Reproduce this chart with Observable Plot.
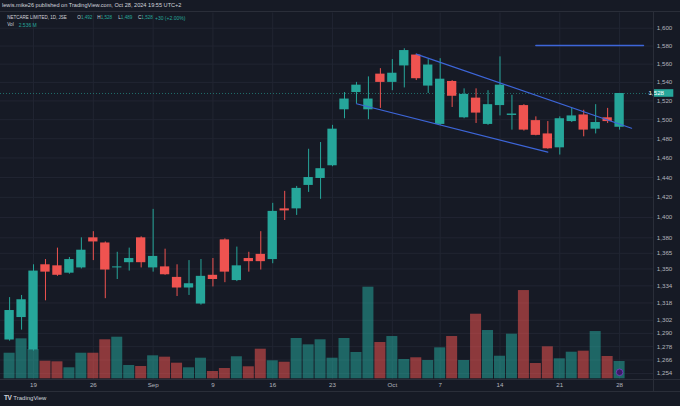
<!DOCTYPE html>
<html>
<head>
<meta charset="utf-8">
<script src="https://cdn.jsdelivr.net/npm/d3@7"></script>
<script src="https://cdn.jsdelivr.net/npm/@observablehq/plot@0.6"></script>
<style>
html,body{margin:0;padding:0;background:#161a25;}
#wrap{position:relative;width:680px;height:406px;overflow:hidden;background:#161a25;font-family:"Liberation Sans",Arial,sans-serif;}
#wrap svg{position:absolute;left:0;top:0;}
.hdr{position:absolute;left:0;top:0;width:680px;height:12px;border-bottom:1px solid #2a2e39;box-sizing:border-box;color:#d1d4dc;font-size:5.6px;line-height:11px;padding-left:2px;background:#161a25;z-index:5;white-space:nowrap;}
.lg{position:absolute;color:#d1d4dc;font-size:4.6px;white-space:nowrap;z-index:5;line-height:6px;}
.lg .v{color:#26a69a;}
.sepH{position:absolute;left:0;width:680px;height:1px;background:#2a2e39;z-index:4;}
.sepV{position:absolute;left:653px;width:1px;top:12px;height:379px;background:#2a2e39;z-index:4;}
.logo{position:absolute;left:4px;top:394px;color:#d1d4dc;font-size:6px;white-space:nowrap;z-index:5;}
.logo b{font-size:6.5px;margin-right:2px;letter-spacing:-0.5px;}
</style>
</head>
<body>
<div id="wrap">
  <div class="hdr">lewis.mike26 published on TradingView.com, Oct 28, 2024 19:55 UTC+2</div>
  <div class="sepH" style="top:379px"></div>
  <div class="sepH" style="top:391px"></div>
  <div class="sepV"></div>
  <div class="logo"><b>TV</b>TradingView</div>
</div>
<script>
// ---- data ----
const dates = ["2024-08-15","2024-08-16","2024-08-19","2024-08-20","2024-08-21","2024-08-22","2024-08-23",
  "2024-08-26","2024-08-27","2024-08-28","2024-08-29","2024-08-30",
  "2024-09-02","2024-09-03","2024-09-04","2024-09-05","2024-09-06",
  "2024-09-09","2024-09-10","2024-09-11","2024-09-12","2024-09-13",
  "2024-09-16","2024-09-17","2024-09-18","2024-09-19","2024-09-20",
  "2024-09-23","2024-09-25","2024-09-26","2024-09-27","2024-09-30",
  "2024-10-01","2024-10-02","2024-10-03","2024-10-04",
  "2024-10-07","2024-10-08","2024-10-09","2024-10-10","2024-10-11",
  "2024-10-14","2024-10-15","2024-10-16","2024-10-17","2024-10-18",
  "2024-10-21","2024-10-22","2024-10-23","2024-10-24","2024-10-25","2024-10-28"];
const open  = [1284,1304.5,1275,1354,1353,1346,1351,1380,1375,1351,1356,1380,1351,1352,1342,1332,1317,1344,1378,1339,1360,1364,1359,1408.5,1408.5,1432,1439,1452,1510.5,1529,1510.5,1549,1540,1558,1570,1536,1495,1541,1502,1523,1495,1515,1504.5,1515,1499,1485,1470.5,1498,1505,1490,1502,1492];
const high  = [1323,1325,1354,1359,1370,1361,1380,1386,1376,1366,1370,1381,1408,1369,1354,1358,1359,1360,1379,1371,1366,1386,1414,1426,1431,1469,1476,1494,1529,1540,1546,1555,1565,1577,1571,1565,1566,1542,1533,1533,1531,1568,1526,1516,1503,1498,1503,1512,1510,1516,1512,1528];
const low   = [1283,1293,1274,1320,1343,1345,1350,1358,1322,1340,1348,1351,1347,1344,1324,1325,1316,1333,1337,1338,1347,1349,1355,1397,1402,1425,1418,1451,1501,1517,1500,1512,1531,1534,1542,1528,1494,1513,1501,1496,1494,1504,1489,1488,1483,1469,1463,1497,1482,1485,1496,1489];
const close = [1311,1321,1348,1347,1344,1359,1368,1376,1349,1352,1360,1356,1362,1344.5,1332,1336,1343,1340,1347,1353,1357,1357,1406,1406.5,1429,1440,1449,1490,1522,1537,1522,1540,1550,1575,1544,1559,1543.5,1525,1527,1507,1516,1537,1506,1489,1483.5,1469.5,1501,1504,1489,1497,1498,1528];
const volume = [3.75,5.86,4.30,2.58,2.49,1.61,3.75,3.75,5.72,6.10,1.95,1.80,3.37,3.17,2.29,1.61,3.02,1.07,1.51,3.23,1.76,4.34,2.64,2.43,5.91,4.98,5.72,3.02,5.91,3.86,13.43,5.32,6.20,2.83,3.08,2.68,4.54,6.20,2.68,9.47,7.08,3.31,6.54,12.94,2.24,4.69,2.93,3.90,4.05,6.93,3.27,2.536]; // millions

const tickIdx    = [2,7,12,17,22,27,32,36,41,46,51];
const tickLabels = ["19","26","Sep","9","16","23","Oct","7","14","21","28"];
const priceTicks = [1600,1580,1560,1540,1520,1500,1480,1460,1440,1420,1400,1380,1365,1350,1334,1318,1302,1290,1278,1266,1254];

// drawings (bar index, price)
const upperIdx = [34,52],  upperPrice = [1571,1491];
const lowerIdx = [29,45],  lowerPrice = [1517,1466];
const levelIdx = [44,53],  levelPrice = [1580.6,1580.6];

const symbolName = "NETCARE LIMITED, 1D, JSE";
const headerVolume = "2.536 M";

// ---- build ----
const UP = "#26a69a", DOWN = "#ef5350";
const bars = dates.map((date,i)=>({i,date,open:open[i],high:high[i],low:low[i],close:close[i],volume:volume[i]}));
const col = d => d.close >= d.open ? UP : DOWN;
const toPts = (idx,pr) => idx.map((v,k)=>({i:v,price:pr[k]}));

const W = 680, H = 406;
const xOpts = {type:"linear", domain:[-0.761, 53.86], axis:null};
const yPrice = {type:"log", domain:[1248.7, 1617.3], axis:null};
const style = {background:"transparent", color:"#b2b5be", fontFamily:"'Liberation Sans', Arial, sans-serif", fontSize:"6.2px", overflow:"visible"};
const base = {width:W, height:H, marginLeft:0, marginRight:26.7, marginTop:12.5, marginBottom:27, style};

const fmt = d3.format(",");
const wrap = document.getElementById("wrap");

// Layer A: grid + axes
const layerA = Plot.plot({
  ...base, x:xOpts, y:yPrice,
  marks:[
    Plot.gridY(priceTicks, {stroke:"#212532", strokeOpacity:1}),
    Plot.gridX(tickIdx, {stroke:"#212532", strokeOpacity:1}),
    Plot.axisX(tickIdx, {tickSize:0, tickPadding:3, label:null, tickFormat:d => tickLabels[tickIdx.indexOf(d)]}),
    Plot.axisY(priceTicks, {anchor:"right", tickSize:0, tickPadding:3, label:null, tickFormat:fmt})
  ]
});
wrap.appendChild(layerA);

// Layer B: volume
const layerB = Plot.plot({
  width:W, height:H, marginLeft:0, marginRight:26.7, marginTop:241.9, marginBottom:27.7, style,
  x:xOpts, y:{domain:[0,20], axis:null},
  marks:[
    Plot.rect(bars, {x1:d=>d.i-0.46, x2:d=>d.i+0.46, y1:0, y2:"volume", fill:col, fillOpacity:0.55}),
    Plot.dot([bars[bars.length-1]], {x:"i", frameAnchor:"bottom", dy:-6.5, r:3.3, fill:"#3c1a66", stroke:"#7c3fc4", strokeWidth:0.8})
  ]
});
wrap.appendChild(layerB);

// Layer C: candles + drawings
const last = bars[bars.length-1], prev = bars[bars.length-2];
const layerC = Plot.plot({
  ...base, x:xOpts, y:yPrice,
  marks:[
    Plot.ruleY([last.close], {stroke:UP, strokeOpacity:0.75, strokeDasharray:"1,2", strokeWidth:0.8}),
    Plot.ruleX(bars, {x:"i", y1:"low", y2:"high", stroke:col, strokeWidth:1}),
    Plot.rect(bars, {x1:d=>d.i-0.39, x2:d=>d.i+0.39, y1:"open", y2:"close", fill:col}),
    Plot.line(toPts(upperIdx,upperPrice), {x:"i", y:"price", stroke:"#3d66d9", strokeWidth:1.2}),
    Plot.line(toPts(lowerIdx,lowerPrice), {x:"i", y:"price", stroke:"#3d66d9", strokeWidth:1.2}),
    Plot.line(toPts(levelIdx,levelPrice), {x:"i", y:"price", stroke:"#3d66d9", strokeWidth:1.4})
  ]
});
wrap.appendChild(layerC);

// last price label on the price axis, placed with the chart's own scale
const yLast = layerC.scale("y").apply(last.close);
const xRight = layerC.scale("x").range[1];
const svgC = d3.select(layerC);
svgC.append("rect").attr("x", xRight).attr("y", yLast-3.8).attr("width", 20).attr("height", 7.6).attr("fill", UP);
svgC.append("text").attr("x", xRight+3).attr("y", yLast).attr("dy","0.35em").attr("fill","#ffffff")
  .attr("font-size","6.2px").text(fmt(last.close));

// legend (absolute spans)
const chg = last.close - prev.close;
const pct = chg / prev.close * 100;
const sgn = v => (v >= 0 ? "+" : "");
const legendItems = [
  {x:7.3,  y:14.5, html:`<span style="font-size:4.5px">${symbolName}</span>`},
  {x:77.3, y:14.5, html:`O<span class="v">${fmt(last.open)}</span>`},
  {x:97.3, y:14.5, html:`H<span class="v">${fmt(last.high)}</span>`},
  {x:118.3,y:14.5, html:`L<span class="v">${fmt(last.low)}</span>`},
  {x:138,  y:14.5, html:`C<span class="v">${fmt(last.close)}</span>`},
  {x:155,  y:14.5, html:`<span class="v" style="font-size:5px">${sgn(chg)}${chg} (${sgn(chg)}${pct.toFixed(2)}%)</span>`},
  {x:7.3,  y:22,   html:`Vol`},
  {x:18.7, y:22,   html:`<span class="v" style="font-size:5px">${headerVolume}</span>`}
];
for (const it of legendItems) {
  const el = document.createElement("div");
  el.className = "lg";
  el.style.left = it.x + "px";
  el.style.top = it.y + "px";
  el.innerHTML = it.html;
  wrap.appendChild(el);
}
</script>
</body>
</html>
